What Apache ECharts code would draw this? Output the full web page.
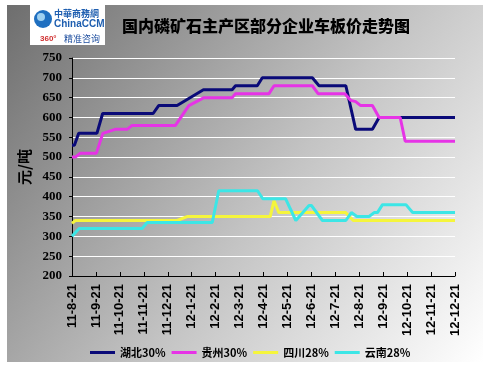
<!DOCTYPE html>
<html><head><meta charset="utf-8">
<script src="https://cdn.jsdelivr.net/npm/echarts@6/dist/echarts.min.js"></script>
<style>html,body{margin:0;padding:0;background:#fff}#c{width:491px;height:370px}</style>
</head><body><div id="c"></div>
<script>
// month ticks (x value = months since 11-8-21)
const tickLabels = ['11-8-21','11-9-21','11-10-21','11-11-21','11-12-21','12-1-21','12-2-21','12-3-21','12-4-21','12-5-21','12-6-21','12-7-21','12-8-21','12-9-21','12-10-21','12-11-21','12-12-21'];
const seriesNames = ['湖北30%','贵州30%','四川28%','云南28%'];
const seriesColors = ['#0a0a78','#e633e6','#f5f53c','#3ce6e6'];
const hubei = [[0,530],[0.1,530],[0.28,560],[1.04,560],[1.28,610],[3.39,610],[3.62,630],[4.39,630],[5.49,670],[6.69,670],[6.83,680],[7.74,680],[7.95,700],[10.04,700],[10.32,680],[11.44,680],[11.85,570],[12.55,570],[12.83,600],[16,600]];
const guizhou = [[0,500],[0.14,500],[0.35,510],[1.02,510],[1.29,560],[1.8,570],[2.3,570],[2.51,580],[4.32,580],[4.88,630],[5.51,650],[6.69,650],[6.83,660],[8.23,660],[8.44,680],[10.04,680],[10.28,660],[11.4,660],[11.65,643],[11.85,640],[12.06,630],[12.55,630],[12.83,600],[13.71,600],[13.92,540],[16,540]];
const sichuan = [[0,333],[0.14,340],[4.39,340],[4.81,350],[8.28,350],[8.44,390],[8.64,360],[11.43,360],[11.75,340],[16,340]];
const yunnan = [[0,300],[0.08,300],[0.3,320],[2.93,320],[3.14,335],[5.86,335],[6.13,415],[7.75,415],[7.97,395],[8.92,395],[9.35,340],[9.9,378],[10.0,378],[10.46,340],[11.44,340],[11.67,360],[11.9,350],[12.41,350],[12.62,360],[12.76,360],[12.97,380],[13.95,380],[14.23,360],[16,360]];
const seriesData = [hubei, guizhou, sichuan, yunnan];

const chart = echarts.init(document.getElementById('c'), null, {renderer:'canvas'});
const boldNum = {fontFamily:'Liberation Serif', fontWeight:'bold', color:'#000'};
chart.setOption({
  animation:false,
  graphic:[
    {type:'rect', z:-100, shape:{x:7,y:5,width:476,height:357},
     style:{fill:new echarts.graphic.LinearGradient(0,0,1,1,[{offset:0,color:'#6e6e6e'},{offset:0.55,color:'#c4c4c4'},{offset:1,color:'#ffffff'}])}},
    {type:'rect', z:-90, shape:{x:30,y:5,width:75,height:40}, style:{fill:'#ffffff'}},
    {type:'circle', z:-80, shape:{cx:43,cy:19,r:9}, style:{fill:'#1f6fc0'}},
    {type:'circle', z:-79, shape:{cx:41,cy:17,r:4}, style:{fill:'#9fd0f0'}},
    {type:'text', z:-70, left:54, top:9, style:{text:'中華商務網', font:'bold 9px "Noto Sans CJK TC"', fill:'#1f5fb0'}},
    {type:'text', z:-70, left:54, top:19, style:{text:'ChinaCCM', font:'bold 10px "Liberation Sans"', fill:'#1f5fb0'}},
    {type:'text', z:-70, left:40, top:35, style:{text:'360°', font:'bold 8px "Liberation Sans"', fill:'#d03030'}},
    {type:'text', z:-70, left:64, top:34, style:{text:'精准咨询', font:'9px "Noto Sans CJK SC"', fill:'#2050a0'}},
    {type:'text', z:-70, left:122, top:18, style:{text:'国内磷矿石主产区部分企业车板价走势图', font:'900 16px "Noto Sans CJK SC"', fill:'#000'}}
  ],
  grid:{left:72, top:58, right:36, bottom:94, containLabel:false, outerBoundsMode:'none'},
  legend:{
    data:seriesNames, top:342, left:85, icon:'rect', itemWidth:25, itemHeight:3, itemGap:6,
    textStyle:{fontSize:11, fontWeight:'bold', color:'#000', fontFamily:'Noto Sans CJK SC'}
  },
  xAxis:{
    type:'value', min:0, max:16, interval:1,
    axisLine:{show:true, lineStyle:{color:'#000', width:1}},
    axisTick:{show:true, inside:true, length:4, lineStyle:{color:'#000'}},
    splitLine:{show:false},
    axisLabel:{rotate:90, margin:8, fontSize:13, fontFamily:'Liberation Sans', fontWeight:'bold', color:'#000',
      formatter:v=>tickLabels[v]||''}
  },
  yAxis:{
    type:'value', min:200, max:750, interval:50,
    name:'元/吨', nameLocation:'middle', nameRotate:90, nameGap:40,
    nameTextStyle:{fontSize:15, fontWeight:'bold', color:'#000', fontFamily:'Noto Sans CJK SC'},
    axisLine:{show:true, lineStyle:{color:'#000', width:1}},
    axisTick:{show:true, inside:false, length:3, lineStyle:{color:'#000'}},
    splitLine:{show:true, lineStyle:{color:'#ffffff', width:1}},
    axisLabel:Object.assign({fontSize:13, margin:10}, boldNum)
  },
  series:seriesNames.map((n,i)=>({
    name:n, type:'line', data:seriesData[i], symbol:'none', z:2+i,
    lineStyle:{color:seriesColors[i], width:3}, itemStyle:{color:seriesColors[i]}
  }))
});
</script></body></html>
